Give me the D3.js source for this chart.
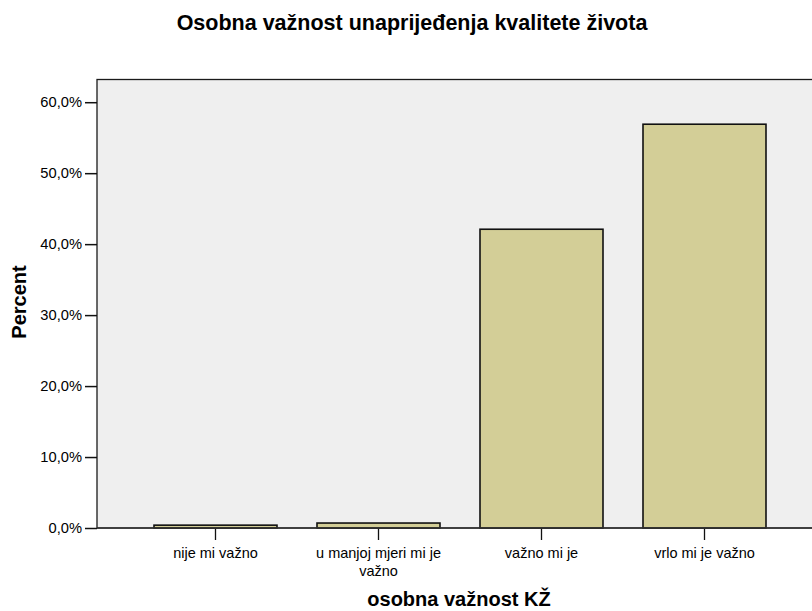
<html>
<head>
    <script src="https://d3js.org/d3.v7.min.js" charset="utf-8"></script>
    <style>
        body { margin: 0; background: #fff; }
        text { font-family: Arial, "Liberation Sans", sans-serif; fill: #000; }
    </style>
</head>
<body>
    <script type="text/javascript">
        var width = 812;
        var height = 611;

        // data
        var categories = ["nije mi važno", "u manjoj mjeri mi je važno", "važno mi je", "vrlo mi je važno"];
        var labelLines = [["nije mi važno"], ["u manjoj mjeri mi je", "važno"], ["važno mi je"], ["vrlo mi je važno"]];
        var percents = [0.4, 0.7, 42.1, 56.9];
        var yTicks = [0, 10, 20, 30, 40, 50, 60];

        var plot = { left: 97, right: 823, top: 79.5, bottom: 528 };

        const svg = d3.select("body").append("svg")
            .attr("width", width)
            .attr("height", height);

        var yScale = d3.scaleLinear()
            .domain([0, 63.2])
            .range([plot.bottom, plot.top]);

        var xScale = d3.scaleBand()
            .domain(categories)
            .range([134, 786])
            .paddingInner(40 / 163)
            .paddingOuter(20 / 163);

        // plot background
        svg.append("rect")
            .attr("x", plot.left)
            .attr("y", plot.top)
            .attr("width", plot.right - plot.left)
            .attr("height", plot.bottom - plot.top)
            .attr("fill", "#efefef")
            .attr("stroke", "#1a1a1a")
            .attr("stroke-width", 1.3);

        // bars
        svg.append("g").selectAll("rect")
            .data(percents)
            .join("rect")
                .attr("x", (d, i) => xScale(categories[i]))
                .attr("y", d => yScale(d))
                .attr("width", xScale.bandwidth())
                .attr("height", d => yScale(0) - yScale(d))
                .attr("fill", "#d3ce97")
                .attr("stroke", "#111")
                .attr("stroke-width", 1.6);

        var yAxis = d3.axisLeft(yScale)
            .tickValues(yTicks)
            .tickFormat(d => d3.format(".1f")(d).replace(".", ",") + "%")
            .tickSize(12)
            .tickPadding(3)
            .tickSizeOuter(0);

        var yg = svg.append("g")
            .attr("transform", `translate(${plot.left}, 0)`)
            .call(yAxis);
        yg.select(".domain").remove();
        yg.selectAll("line").attr("stroke", "#111").attr("stroke-width", 1.5);
        yg.selectAll("text").style("font-size", "14.7px").attr("fill", "#000");

        var xAxis = d3.axisBottom(xScale)
            .tickSize(12)
            .tickSizeOuter(0)
            .tickFormat("");

        var xg = svg.append("g")
            .attr("transform", `translate(0, ${plot.bottom})`)
            .call(xAxis);
        xg.select(".domain").remove();
        xg.selectAll("line").attr("stroke", "#111").attr("stroke-width", 1.3);

        // baseline
        svg.append("line")
            .attr("x1", plot.left).attr("x2", plot.right)
            .attr("y1", plot.bottom).attr("y2", plot.bottom)
            .attr("stroke", "#333").attr("stroke-width", 1.5);

        // category labels, wrapped as in the original
        svg.append("g").selectAll("text")
            .data(categories)
            .join("text")
                .attr("text-anchor", "middle")
                .style("font-size", "14.5px")
                .attr("x", d => xScale(d) + xScale.bandwidth() / 2)
                .attr("y", 558)
                .each(function(d, i) {
                    var t = d3.select(this);
                    labelLines[i].forEach((line, j) => {
                        t.append("tspan")
                            .attr("x", xScale(d) + xScale.bandwidth() / 2)
                            .attr("dy", j === 0 ? 0 : 18)
                            .text(line);
                    });
                });

        // titles
        svg.append("text")
            .attr("x", 412)
            .attr("y", 30)
            .attr("text-anchor", "middle")
            .style("font-size", "21.5px")
            .style("font-weight", "bold")
            .text("Osobna važnost unaprijeđenja kvalitete života");

        svg.append("text")
            .attr("x", 459)
            .attr("y", 606)
            .attr("text-anchor", "middle")
            .style("font-size", "20px")
            .style("font-weight", "bold")
            .text("osobna važnost KŽ");

        svg.append("text")
            .attr("transform", "translate(26, 302) rotate(-90)")
            .attr("text-anchor", "middle")
            .style("font-size", "20px")
            .style("font-weight", "bold")
            .text("Percent");
    </script>
</body>
</html>
